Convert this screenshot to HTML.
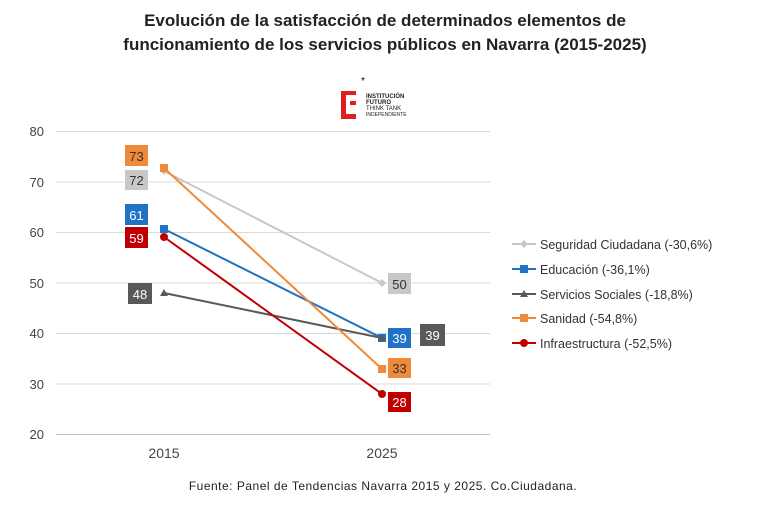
<!DOCTYPE html>
<html><head><meta charset="utf-8"><style>
body{margin:0;background:#fff;}
svg text{font-family:"Liberation Sans",sans-serif;}
</style></head><body>
<svg width="771" height="521" xmlns="http://www.w3.org/2000/svg">
<rect width="771" height="521" fill="#fff"/>
<text x="385" y="26" text-anchor="middle" font-size="17" font-weight="bold" fill="#222">Evolución de la satisfacción de determinados elementos de</text>
<text x="385" y="50" text-anchor="middle" font-size="17" font-weight="bold" fill="#222">funcionamiento de los servicios públicos en Navarra (2015-2025)</text>
<text x="363" y="84" text-anchor="middle" font-size="10" fill="#000">*</text>
<rect x="341" y="91" width="5" height="28" fill="#e02020"/>
<rect x="341" y="91" width="15" height="4" fill="#e02020"/>
<rect x="341" y="114" width="15" height="5" fill="#e02020"/>
<rect x="350" y="101" width="6" height="4" fill="#e02020"/>
<text x="366" y="98" font-size="6" font-weight="bold" fill="#222">INSTITUCIÓN</text>
<text x="366" y="104" font-size="6" font-weight="bold" fill="#222">FUTURO</text>
<text x="366" y="110" font-size="6" fill="#222">THINK TANK</text>
<text x="366" y="116" font-size="5" fill="#222">INDEPENDIENTE</text>
<g stroke="#d9d9d9" stroke-width="1">
<line x1="56" x2="490" y1="131.5" y2="131.5"/><line x1="56" x2="490" y1="182" y2="182"/>
<line x1="56" x2="490" y1="232.5" y2="232.5"/><line x1="56" x2="490" y1="283" y2="283"/>
<line x1="56" x2="490" y1="333.5" y2="333.5"/><line x1="56" x2="490" y1="384" y2="384"/>
</g>
<line x1="56" x2="490" y1="434.5" y2="434.5" stroke="#bfbfbf"/>
<g font-size="13" fill="#444" text-anchor="end">
<text x="44" y="136">80</text><text x="44" y="187">70</text><text x="44" y="237">60</text>
<text x="44" y="288">50</text><text x="44" y="338">40</text><text x="44" y="389">30</text><text x="44" y="439">20</text>
</g>
<text x="164" y="458" font-size="14" fill="#444" text-anchor="middle">2015</text>
<text x="382" y="458" font-size="14" fill="#444" text-anchor="middle">2025</text>
<g fill="none" stroke-width="2">
<line x1="164" y1="171" x2="382" y2="283" stroke="#c8c8c8"/>
<line x1="164" y1="229" x2="382" y2="338" stroke="#1f72c4"/>
<line x1="164" y1="293" x2="382" y2="338" stroke="#595959"/>
<line x1="164" y1="168" x2="382" y2="369" stroke="#ee8a3a"/>
<line x1="164" y1="237" x2="382" y2="394" stroke="#c00000"/>
</g>
<path d="M164 167l4 4-4 4-4-4z M382 279l4 4-4 4-4-4z" fill="#c8c8c8"/>
<rect x="160" y="225" width="8" height="8" fill="#1f72c4"/><rect x="378" y="334" width="8" height="8" fill="#1f72c4"/>
<path d="M164 289l4 7h-8z M382 334l4 7h-8z" fill="#595959"/>
<rect x="160" y="164" width="8" height="8" fill="#ee8a3a"/><rect x="378" y="365" width="8" height="8" fill="#ee8a3a"/>
<circle cx="164" cy="237" r="4" fill="#c00000"/><circle cx="382" cy="394" r="4" fill="#c00000"/>
<g font-size="13" text-anchor="middle">
<rect x="125" y="145" width="23" height="21" fill="#ee8a3a"/><text x="136.5" y="161" fill="#333">73</text>
<rect x="125" y="170" width="23" height="20" fill="#c8c8c8"/><text x="136.5" y="185" fill="#333">72</text>
<rect x="125" y="204" width="23" height="21" fill="#1f72c4"/><text x="136.5" y="220" fill="#fff">61</text>
<rect x="125" y="227" width="23" height="21" fill="#c00000"/><text x="136.5" y="243" fill="#fff">59</text>
<rect x="128" y="283" width="24" height="21" fill="#595959"/><text x="140" y="299" fill="#fff">48</text>
<rect x="388" y="273" width="23" height="21" fill="#c8c8c8"/><text x="399.5" y="289" fill="#333">50</text>
<rect x="388" y="328" width="23" height="20" fill="#1f72c4"/><text x="399.5" y="343" fill="#fff">39</text>
<rect x="420" y="324" width="25" height="22" fill="#595959"/><text x="432.5" y="340" fill="#fff">39</text>
<rect x="388" y="358" width="23" height="20" fill="#ee8a3a"/><text x="399.5" y="373" fill="#333">33</text>
<rect x="388" y="392" width="23" height="20" fill="#c00000"/><text x="399.5" y="407" fill="#fff">28</text>
</g>
<g font-size="12.5" fill="#333">
<line x1="512" x2="536" y1="244" y2="244" stroke="#c8c8c8" stroke-width="2"/><path d="M524 240l4 4-4 4-4-4z" fill="#c8c8c8"/><text x="540" y="249">Seguridad Ciudadana (-30,6%)</text>
<line x1="512" x2="536" y1="269" y2="269" stroke="#1f72c4" stroke-width="2"/><rect x="520" y="265" width="8" height="8" fill="#1f72c4"/><text x="540" y="274">Educación (-36,1%)</text>
<line x1="512" x2="536" y1="294" y2="294" stroke="#595959" stroke-width="2"/><path d="M524 290l4 7h-8z" fill="#595959"/><text x="540" y="299">Servicios Sociales (-18,8%)</text>
<line x1="512" x2="536" y1="318" y2="318" stroke="#ee8a3a" stroke-width="2"/><rect x="520" y="314" width="8" height="8" fill="#ee8a3a"/><text x="540" y="323">Sanidad (-54,8%)</text>
<line x1="512" x2="536" y1="343" y2="343" stroke="#c00000" stroke-width="2"/><circle cx="524" cy="343" r="4" fill="#c00000"/><text x="540" y="348">Infraestructura  (-52,5%)</text>
</g>
<text x="383" y="490" text-anchor="middle" font-size="12" fill="#222" letter-spacing="0.5">Fuente: Panel de Tendencias Navarra 2015 y 2025. Co.Ciudadana.</text>
</svg>
</body></html>
